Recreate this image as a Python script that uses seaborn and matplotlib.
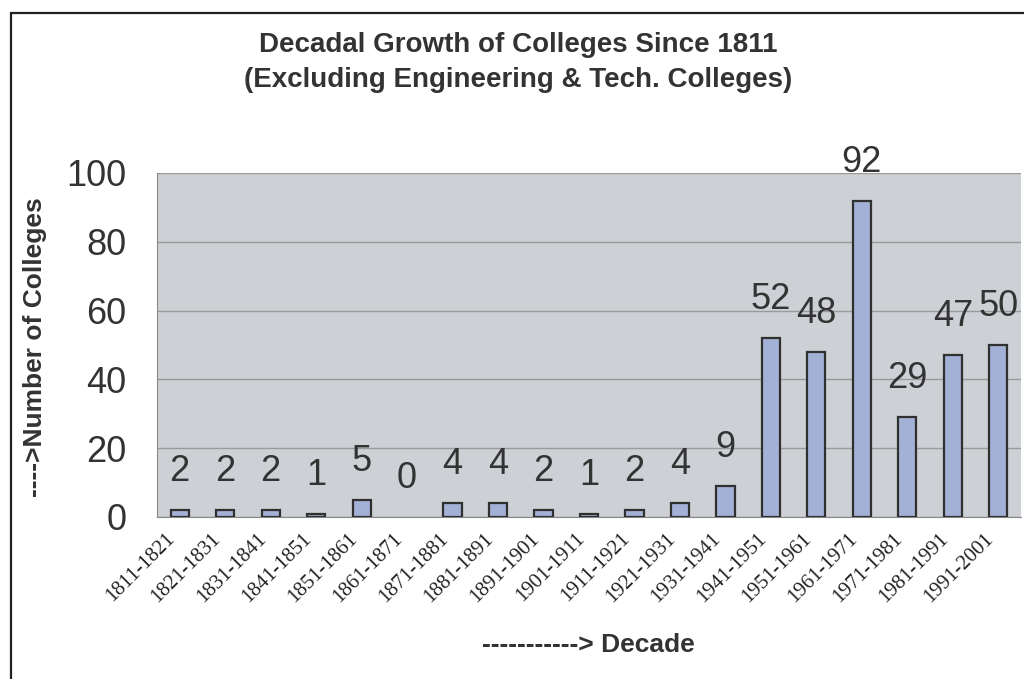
import matplotlib
matplotlib.use("Agg")
import matplotlib.pyplot as plt
import matplotlib.transforms as mtransforms
from matplotlib.patches import Rectangle
import seaborn as sns
import pandas as pd

decades = ["1811-1821", "1821-1831", "1831-1841", "1841-1851", "1851-1861",
           "1861-1871", "1871-1881", "1881-1891", "1891-1901", "1901-1911",
           "1911-1921", "1921-1931", "1931-1941", "1941-1951", "1951-1961",
           "1961-1971", "1971-1981", "1981-1991", "1991-2001"]
colleges = [2, 2, 2, 1, 5, 0, 4, 4, 2, 1, 2, 4, 9, 52, 48, 92, 29, 47, 50]
y_ticks = [0, 20, 40, 60, 80, 100]

df = pd.DataFrame({"decade": decades, "colleges": colleges})

sns.set_style("white")
plt.rcParams["font.family"] = ["Liberation Sans", "DejaVu Sans"]

W, H = 1024, 679
fig = plt.figure(figsize=(W / 100, H / 100), dpi=100)
fig.patch.set_facecolor("white")

# outer chart frame (runs off the right and bottom edges)
fig.patches.append(Rectangle((11 / W, -0.05), 1.2, 1 - 13 / H + 0.05,
                             transform=fig.transFigure, fill=False,
                             edgecolor="#222222", linewidth=1.6, zorder=0))

left, right, top, bottom = 157, 1021, 173, 517
ax = fig.add_axes([left / W, 1 - bottom / H, (right - left) / W, (bottom - top) / H])
ax.set_facecolor("#cdd0d4")

sns.barplot(data=df, x="decade", y="colleges", ax=ax, color="#a4b1d6",
            edgecolor="#303030", linewidth=1.6, width=0.4, saturation=1,
            zorder=3)

# empty decades get no visible outline
for patch in ax.patches:
    if patch.get_height() == 0:
        patch.set_linewidth(0)

ax.set_ylim(0, 100)
ax.set_xlim(-0.5, len(decades) - 0.5)
ax.set_yticks(y_ticks)
ax.set_yticklabels([str(t) for t in y_ticks], fontsize=26, color="#333333")
ax.yaxis.grid(True, color="#9a9a9a", linewidth=1.0, zorder=1)
ax.set_axisbelow(True)

# category boundary ticks on the x axis
ax.set_xticks([i - 0.5 for i in range(len(decades) + 1)], minor=False)
ax.set_xticklabels([""] * (len(decades) + 1))
ax.tick_params(axis="x", which="major", length=6, color="#888888", width=1)
ax.tick_params(axis="y", length=9, color="#888888", width=1, pad=13)

# decade labels, slanted under each bar
ax.set_xticks(range(len(decades)), minor=True)
ax.set_xticklabels(decades, minor=True, rotation=45, ha="right",
                   rotation_mode="anchor", fontsize=15,
                   family=["Liberation Serif"], color="#222222")
ax.tick_params(axis="x", which="minor", length=0, pad=9)
shift = mtransforms.ScaledTranslation(-14 / 100, 0, fig.dpi_scale_trans)
for lbl in ax.get_xticklabels(minor=True):
    lbl.set_transform(lbl.get_transform() + shift)

for side in ["top", "right"]:
    ax.spines[side].set_visible(False)
ax.spines["left"].set_color("#888888")
ax.spines["bottom"].set_color("#888888")

for container in ax.containers:
    ax.bar_label(container, labels=[str(v) for v in colleges], padding=15,
                 fontsize=26, color="#333333")

ax.set_xlabel("")
ax.set_ylabel("")

fig.text(35 / W, 1 - 347 / H, "---->Number of Colleges", rotation=90,
         ha="center", va="center", fontsize=19, fontweight="bold",
         color="#333333")
fig.text(588 / W, 1 - 645 / H, "-----------> Decade", ha="center",
         va="center", fontsize=19, fontweight="bold", color="#333333")
fig.text(518 / W, 1 - 45 / H, "Decadal Growth of Colleges Since 1811",
         ha="center", va="center", fontsize=20, fontweight="bold",
         color="#333333")
fig.text(518 / W, 1 - 80 / H, "(Excluding Engineering & Tech. Colleges)",
         ha="center", va="center", fontsize=20, fontweight="bold",
         color="#333333")

fig.savefig("out.png", dpi=100)
